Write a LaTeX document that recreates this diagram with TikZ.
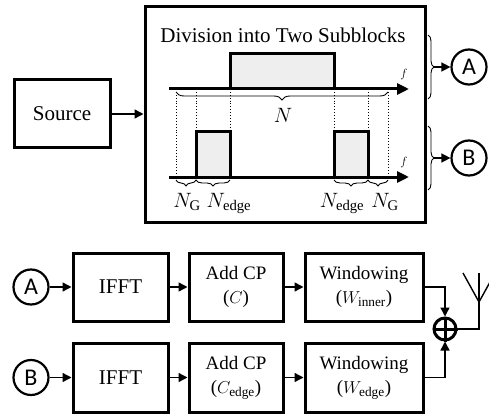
\documentclass[tikz,border=0pt]{standalone}
\usepackage{fontspec}
\setmainfont{Liberation Serif}
\newfontfamily\circfont{Carlito}
\usetikzlibrary{arrows.meta,decorations.pathreplacing,calc}
\begin{document}
\begin{tikzpicture}[x=1pt,y=-1pt,
  blk/.style={draw, line width=3pt, inner sep=0pt, align=center},
  bigtxt/.style={font=\fontsize{21}{25}\selectfont},
  smtxt/.style={font=\fontsize{19}{24}\selectfont},
  mlbl/.style={font=\fontsize{21}{24}\selectfont, inner sep=0pt},
  flbl/.style={font=\fontsize{12}{14}\selectfont, inner sep=0pt},
  circ/.style={draw, circle, line width=2.2pt, minimum size=35pt, inner sep=0pt, font=\circfont\fontsize{24}{28}\selectfont},
  arr/.style={line width=1.4pt, -{Triangle[length=9pt,width=9pt]}},
  wire/.style={line width=1.4pt},
  axis/.style={line width=3pt, -{Triangle[length=12pt,width=11pt]}},
  sub/.style={draw, line width=3pt, fill={rgb,255:red,238;green,238;blue,238}},
  dots/.style={dotted, line width=0.9pt},
  brc/.style={decorate, decoration={brace, amplitude=#1}, line width=0.9pt},
  brc/.default=6
]
\useasboundingbox (0,0) rectangle (489,414);

% main block
\node[blk, minimum width=280, minimum height=215] (main) at (285,114.5) {};
\node[bigtxt] (title) at (283,35) {Division into Two Subblocks};
\node[blk, bigtxt, minimum width=96, minimum height=68] (src) at (62,114) {Source};
\draw[arr] (src.east) -- (src.east -| main.west);

% dotted guides
\foreach \x in {176,196,230,334,368,388} \draw[dots] (\x,89) -- (\x,177);

% upper spectrum
\draw[sub] (230,89) rectangle (334,54);
\coordinate (ua0) at (169,89);
\coordinate (ua1) at (409,89);
\draw[axis] (ua0) -- (ua1);
\node[flbl] (f1) at (404,75) {$f$};
\draw[brc=8] (388,92) -- (176,92);
\node[mlbl] (N) at (283,115) {$N$};

% lower spectrum
\draw[sub] (196,177) rectangle (230,132);
\draw[sub] (334,177) rectangle (368,132);
\coordinate (la0) at (169,177);
\coordinate (la1) at (409,177);
\draw[axis] (la0) -- (la1);
\node[flbl] (f2) at (404,162) {$f$};
\draw[brc] (196,180) -- (176,180);
\draw[brc] (230,180) -- (196,180);
\draw[brc] (368,180) -- (334,180);
\draw[brc] (388,180) -- (368,180);
\node[mlbl, anchor=base] (ng1) at (187,207) {$N_{\mathrm{G}}$};
\node[mlbl, anchor=base] (ne1) at (229,207) {$N_{\mathrm{edge}}$};
\node[mlbl, anchor=base] (ne2) at (342,207) {$N_{\mathrm{edge}}$};
\node[mlbl, anchor=base] (ng2) at (385,207) {$N_{\mathrm{G}}$};

% right braces and outputs
\draw[brc] (428,35) -- (428,99);
\draw[brc] (428,126) -- (428,190);
\coordinate (bA) at (434,67);
\coordinate (bB) at (434,158);
\node[circ] (A1) at (469,67) {A};
\node[circ] (B1) at (469,158) {B};
\draw[arr] (bA) -- (A1);
\draw[arr] (bB) -- (B1);

% lower chain
\node[circ] (A2) at (31,287) {A};
\node[circ] (B2) at (31,377.5) {B};
\node[blk, bigtxt, minimum width=95, minimum height=68] (ifft1) at (120.5,287) {IFFT};
\node[blk, smtxt, minimum width=94, minimum height=68] (cp1) at (236,287) {Add CP\\($C$)};
\node[blk, smtxt, minimum width=118, minimum height=68] (win1) at (364,287) {Windowing\\($W_{\mathrm{inner}}$)};
\node[blk, bigtxt, minimum width=95, minimum height=69] (ifft2) at (120.5,377.5) {IFFT};
\node[blk, smtxt, minimum width=94, minimum height=69] (cp2) at (236,377.5) {Add CP\\($C_{\mathrm{edge}}$)};
\node[blk, smtxt, minimum width=118, minimum height=69] (win2) at (364,377.5) {Windowing\\($W_{\mathrm{edge}}$)};
\draw[arr] (A2) -- (ifft1);
\draw[arr] (ifft1) -- (cp1);
\draw[arr] (cp1) -- (win1);
\draw[arr] (B2) -- (ifft2);
\draw[arr] (ifft2) -- (cp2);
\draw[arr] (cp2) -- (win2);

% summation and antenna
\node[draw, circle, line width=3pt, minimum size=22pt, inner sep=0pt] (sum) at (445,329) {};
\draw[line width=3pt] (sum.north) -- (sum.south) (sum.west) -- (sum.east);
\draw[arr] (win1.east) -| (sum.north);
\draw[arr] (win2.east) -| (sum.south);
\coordinate (ant) at (479,302);
\coordinate (antT) at (479,273);
\coordinate (antL) at (463,273);
\coordinate (antR) at (495,273);
\draw[wire] (sum.east) -| (ant) -- (antT);
\draw[wire] (antL) -- (ant) -- (antR);
\end{tikzpicture}
\end{document}
